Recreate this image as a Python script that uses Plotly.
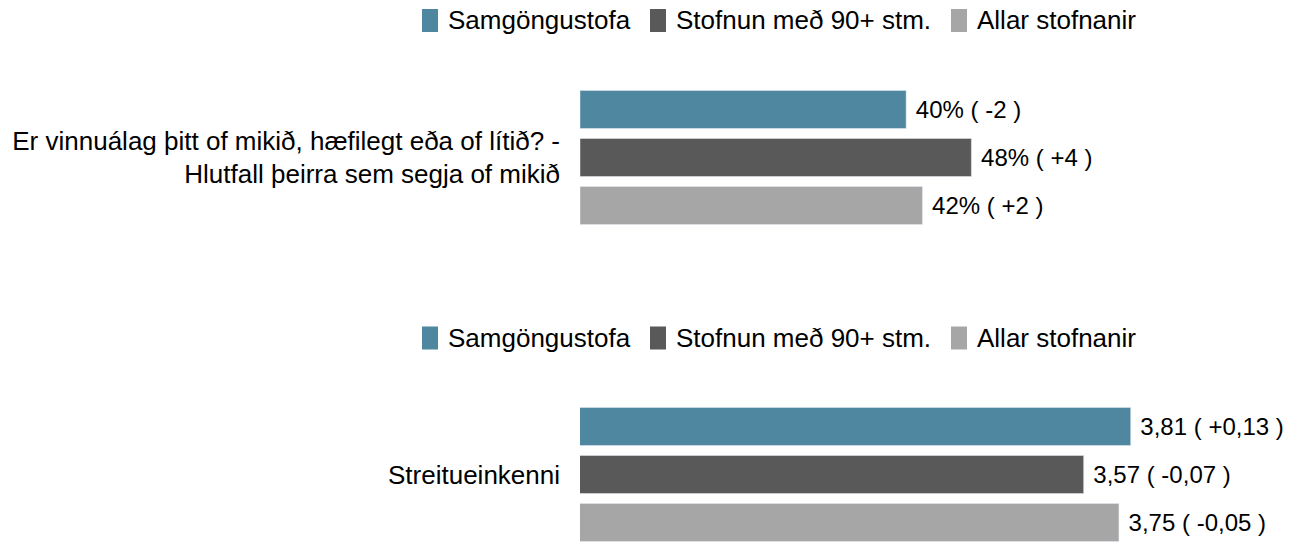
import plotly.graph_objects as go

# groups and colours
groups = ['Samgöngustofa', 'Stofnun með 90+ stm.', 'Allar stofnanir']
colors = ['#4F87A1', '#595959', '#A6A6A6']

# question 1: share saying workload is too much (%)
q1_label = 'Er vinnuálag þitt of mikið, hæfilegt eða of lítið? -<br>Hlutfall þeirra sem segja of mikið'
q1_values = [40, 48, 42]
q1_changes = ['-2', '+4', '+2']

# question 2: stress symptoms (mean score)
q2_label = 'Streitueinkenni'
q2_values = [3.81, 3.57, 3.75]
q2_changes = ['+0,13', '-0,07', '-0,05']

FONT = 'Liberation Sans, Arial, sans-serif'
FS = 26        # axis / legend text
FS_LABEL = 24  # value labels next to the bars
W, H = 1291, 542
X0 = 580 / W  # left edge of the bars

fig = go.Figure()

for i, name in enumerate(groups):
    fig.add_trace(go.Bar(
        y=[q1_label],
        x=[q1_values[i]],
        orientation='h',
        name=name,
        marker=dict(color=colors[i]),
        text=['\u00a0' + f'{q1_values[i]}% ( {q1_changes[i]} )'],
        textposition='outside',
        constraintext='none',
        cliponaxis=False,
        textfont=dict(color='black', size=FS_LABEL, family=FONT),
        xaxis='x', yaxis='y',
        showlegend=False,
    ))

for i, name in enumerate(groups):
    fig.add_trace(go.Bar(
        y=[q2_label],
        x=[q2_values[i]],
        orientation='h',
        name=name,
        marker=dict(color=colors[i]),
        text=['\u00a0' + f'{q2_values[i]:.2f}'.replace('.', ',') + f' ( {q2_changes[i]} )'],
        textposition='outside',
        constraintext='none',
        cliponaxis=False,
        textfont=dict(color='black', size=FS_LABEL, family=FONT),
        xaxis='x2', yaxis='y2',
        showlegend=False,
    ))

# legend above each panel: tall colour swatch + name
legend_swatch_x = [422, 650, 951]   # px
legend_rows_y = [20.5, 338]         # px from top (row centre)
for row_y in legend_rows_y:
    for i, name in enumerate(groups):
        sx = legend_swatch_x[i]
        fig.add_shape(type='rect', xref='paper', yref='paper',
                      x0=sx / W, x1=(sx + 16) / W,
                      y0=1 - (row_y + 11.5) / H, y1=1 - (row_y - 11.5) / H,
                      fillcolor=colors[i], line=dict(width=0))
        fig.add_annotation(text=name, xref='paper', yref='paper',
                           x=(sx + 24) / W, y=1 - row_y / H,
                           xanchor='left', yanchor='middle', showarrow=False,
                           font=dict(size=FS, family=FONT, color='black'))

axis_common = dict(showgrid=False, zeroline=False, showline=False, showticklabels=False,
                   fixedrange=True, automargin=False)
yaxis_common = dict(type='category', showgrid=False, zeroline=False, showline=False, ticks='',
                    ticklabelstandoff=19, tickfont=dict(size=FS), automargin=False)

fig.update_layout(
    width=W,
    height=H,
    margin=dict(l=0, r=0, t=0, b=0),
    paper_bgcolor='white',
    plot_bgcolor='white',
    font=dict(family=FONT, size=FS, color='black'),
    barmode='group',
    bargap=0.1,
    bargroupgap=0.2083,
    xaxis=dict(domain=[X0, 1], anchor='y', range=[0, 87.2], **axis_common),
    xaxis2=dict(domain=[X0, 1], anchor='y2', range=[1, 4.628], **axis_common),
    yaxis=dict(domain=[0.5618, 0.8570], anchor='x', range=[0.5, -0.5], **yaxis_common),
    yaxis2=dict(domain=[0, 0.2721], anchor='x2', range=[0.4219, -0.5], **yaxis_common),
    showlegend=False,
)

# drop the browser's default 8px body margin so the figure fills the window
fig.write_html('out.html', config={'displayModeBar': False},
               post_script="document.body.style.margin = '0';")
